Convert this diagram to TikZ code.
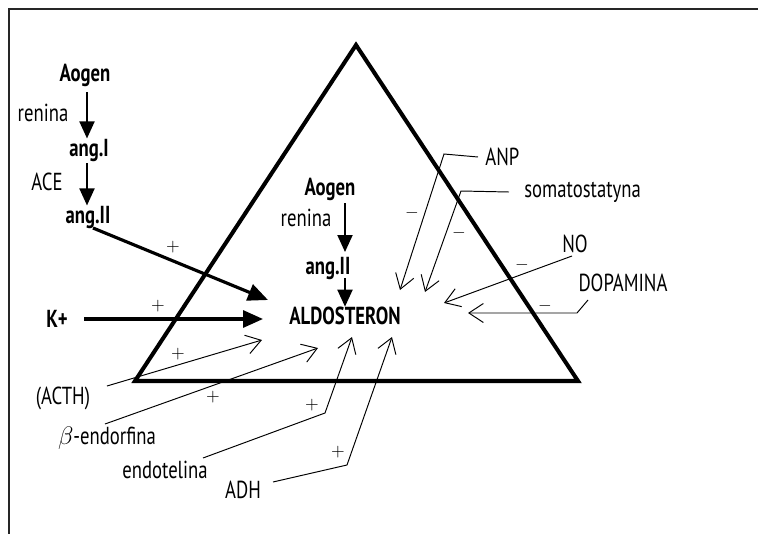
\documentclass[tikz,border=0pt]{standalone}
\usepackage{fontspec}
\setmainfont{PT Sans}[FakeStretch=0.76]
\usetikzlibrary{positioning}
\usetikzlibrary{arrows.meta}

\begin{document}
\begin{tikzpicture}
 [ x=0.02cm, y=-0.02cm
 , txt/.style={inner sep=0pt, font=\fontsize{14}{16}\selectfont}
 , hormone/.style={inner sep=0pt, font=\fontsize{14}{16}\selectfont\bfseries}
 , sign/.style={inner sep=0pt, font=\fontsize{10}{12}\selectfont}
 , frame/.style={line width=0.6pt, black!85}
 , gland/.style={line width=2.3pt}
 , chain/.style={line width=1.1pt, -{Triangle[length=3.4mm, width=3mm]}}
 , big arrow/.style={line width=1.8pt, -{Triangle[length=4mm, width=3.4mm]}}
 , thin arrow/.style={line width=0.55pt, -{Straight Barb[length=2.9mm, width=3.8mm]}}
 ]
  \useasboundingbox (0,0) rectangle (758,534);
  \draw[frame] (8,9) -- (758,9);
  \draw[frame] (9,9) -- (9,534);

  % kora nadnerczy
  \draw[gland] (356,45) -- (578,381) -- (135,381) -- cycle;

  % uklad RAA poza trojkatem
  \node[hormone] (aogenL) at (85,75) {Aogen};
  \node[txt] (reninaL) at (43,113) {renina};
  \node[hormone] (angIL) at (89,150) {ang.I};
  \node[txt] (aceL) at (47,182) {ACE};
  \node[hormone] (angIIL) at (88,217) {ang.II};
  \coordinate (lA) at (87,92);
  \coordinate (lB) at (87,163);
  \draw[chain] (lA) -- (lA |- angIL.north);
  \draw[chain] (lB) -- (lB |- angIIL.north);

  % uklad RAA w nadnerczu
  \node[hormone] (aogenC) at (330,189) {Aogen};
  \node[txt] (reninaC) at (306,218) {renina};
  \node[hormone] (angIIC) at (328,268) {ang.II};
  \node[hormone] (aldo) at (345,316) {ALDOSTERON};
  \coordinate (cA) at (345,203);
  \coordinate (cB) at (345,252);
  \coordinate (cC) at (345,278);
  \draw[chain] (cA) -- (cB);
  \draw[chain] (cC) -- (aldo.north -| cC);

  % pobudzajace
  \node[hormone] (kplus) at (57,319) {K+};
  \coordinate (angEnd) at (268,300);
  \coordinate (kEnd) at (263,319);
  \draw[big arrow] (93,228) -- (angEnd);
  \draw[big arrow] ([xshift=16*0.02cm]kplus.east) -- (kEnd);
  \node[sign] at (173,247) {$+$};
  \node[sign] at (158,306) {$+$};

  \node[txt] (acth) at (63,398) {(ACTH)};
  \node[txt] (beta) at (107,438) {$\beta$-endorfina};
  \node[txt] (endo) at (165,470) {endotelina};
  \node[txt] (adh) at (243,490) {ADH};
  \coordinate (acthA) at (107,386);
  \coordinate (acthB) at (262,340);
  \coordinate (betaA) at (105,424);
  \coordinate (betaB) at (318,348);
  \coordinate (endoA) at (203,458);
  \coordinate (endoK) at (325,413);
  \coordinate (endoB) at (352,337);
  \coordinate (adhA) at (273,482);
  \coordinate (adhK) at (347,465);
  \coordinate (adhB) at (392,337);
  \draw[thin arrow] (acthA) -- (acthB);
  \draw[thin arrow] (betaA) -- (betaB);
  \draw[thin arrow] (endoA) -- (endoK) -- (endoB);
  \draw[thin arrow] (adhA) -- (adhK) -- (adhB);
  \node[sign] at (178,354) {$+$};
  \node[sign] at (213,397) {$+$};
  \node[sign] at (312,405) {$+$};
  \node[sign] at (338,452) {$+$};

  % hamujace
  \node[txt, anchor=west] (anp) at (485,157) {ANP};
  \node[txt, anchor=west] (soma) at (524,192) {somatostatyna};
  \node[txt] (no) at (575,244) {NO};
  \node[txt] (dopa) at (623,283) {DOPAMINA};
  \coordinate (anpK) at (444,154);
  \coordinate (anpB) at (400,290);
  \coordinate (somaK) at (461,191);
  \coordinate (somaB) at (425,292);
  \coordinate (noA) at (572,256);
  \coordinate (noB) at (444,303);
  \coordinate (dopaA) at (588,300);
  \coordinate (dopaK) at (577,313);
  \coordinate (dopaB) at (468,313);
  \draw[thin arrow] ([xshift=-7*0.02cm]anp.west) -- (anpK) -- (anpB);
  \draw[thin arrow] ([xshift=-15*0.02cm]soma.west) -- (somaK) -- (somaB);
  \draw[thin arrow] (noA) -- (noB);
  \draw[thin arrow] (dopaA) -- (dopaK) -- (dopaB);
  \node[sign] at (412,213) {$-$};
  \node[sign] at (459,233) {$-$};
  \node[sign] at (522,265) {$-$};
  \node[sign] at (545,306) {$-$};
\end{tikzpicture}
\end{document}
